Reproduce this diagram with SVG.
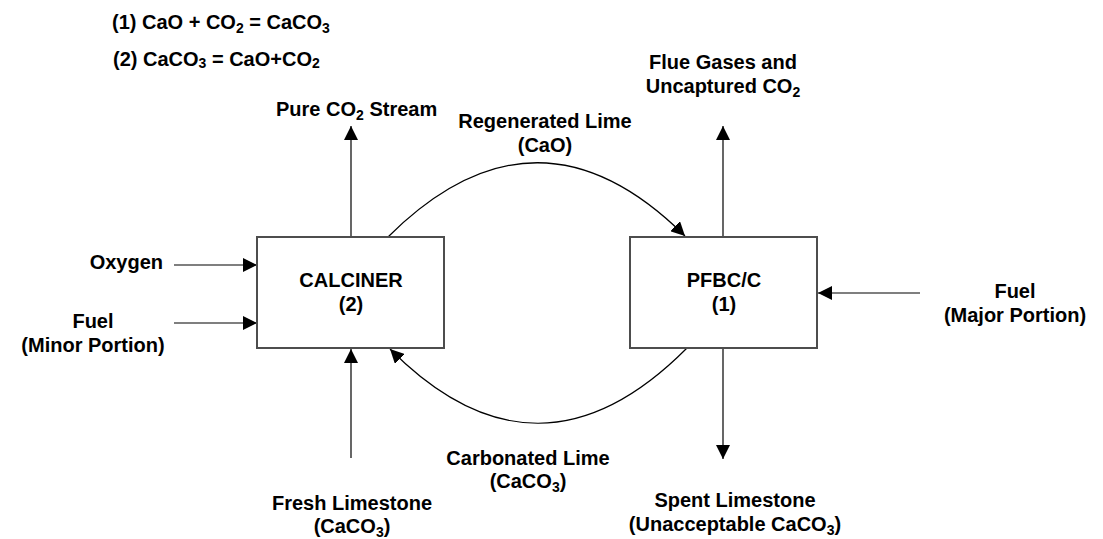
<svg xmlns="http://www.w3.org/2000/svg" width="1103" height="539" viewBox="0 0 1103 539">
<style>
text{font-family:"Liberation Sans",Arial,sans-serif;font-weight:bold;font-size:20px;fill:#000}
.m{text-anchor:middle}
.box{fill:#fff;stroke:#4d4d4d;stroke-width:2}
.c{fill:none;stroke:#000;stroke-width:1.2}
</style>
<defs>
<marker id="ah" viewBox="0 0 14 14" refX="14" refY="7" markerWidth="14" markerHeight="14" markerUnits="userSpaceOnUse" orient="auto">
<path d="M0,0 L14,7 L0,14 z" fill="#000"/>
</marker>
</defs>
<rect width="1103" height="539" fill="#fff"/>
<g id="equations">
<text x="112" y="29">(1) CaO + CO<tspan font-size="14" dy="4">2</tspan><tspan dy="-4"> = CaCO</tspan><tspan font-size="14" dy="4">3</tspan></text>
<text x="113" y="66">(2) CaCO<tspan font-size="14" dy="2">3</tspan><tspan dy="-2"> = CaO+CO</tspan><tspan font-size="14" dy="2">2</tspan></text>
</g>
<g id="connectors">
<path class="c" d="M351,237 V126" marker-end="url(#ah)"/>
<path class="c" d="M723,237 V126" marker-end="url(#ah)"/>
<path class="c" d="M174,265 H257" marker-end="url(#ah)"/>
<path class="c" d="M174,323 H257" marker-end="url(#ah)"/>
<path class="c" d="M920,293 H818" marker-end="url(#ah)"/>
<path class="c" d="M351,458 V349" marker-end="url(#ah)"/>
<path class="c" d="M723,348 V459" marker-end="url(#ah)"/>
<path class="c" d="M388,237 Q537,89 685,236" marker-end="url(#ah)"/>
<path class="c" d="M687,348 Q538,498 390,349" marker-end="url(#ah)"/>
</g>
<g id="calciner">
<rect class="box" x="257" y="237" width="187" height="111"/>
<text class="m" x="351" y="287">CALCINER</text>
<text class="m" x="351" y="311">(2)</text>
</g>
<g id="pfbc">
<rect class="box" x="630" y="237" width="187" height="111"/>
<text class="m" x="724" y="287">PFBC/C</text>
<text class="m" x="724" y="311">(1)</text>
</g>
<g id="pure-co2">
<text x="276" y="116">Pure CO<tspan font-size="14" dy="4">2</tspan><tspan dy="-4"> Stream</tspan></text>
</g>
<g id="flue-gases">
<text class="m" x="723" y="69">Flue Gases and</text>
<text class="m" x="723" y="93">Uncaptured CO<tspan font-size="14" dy="4">2</tspan></text>
</g>
<g id="regenerated-lime">
<text class="m" x="545" y="128">Regenerated Lime</text>
<text class="m" x="545" y="152">(CaO)</text>
</g>
<g id="oxygen">
<text x="163" y="269" text-anchor="end">Oxygen</text>
</g>
<g id="fuel-minor">
<text class="m" x="93" y="328">Fuel</text>
<text class="m" x="93" y="352">(Minor Portion)</text>
</g>
<g id="fuel-major">
<text class="m" x="1015" y="298">Fuel</text>
<text class="m" x="1015" y="322">(Major Portion)</text>
</g>
<g id="fresh-limestone">
<text class="m" x="352" y="510">Fresh Limestone</text>
<text class="m" x="352" y="533">(CaCO<tspan font-size="14" dy="4">3</tspan><tspan dy="-4">)</tspan></text>
</g>
<g id="carbonated-lime">
<text class="m" x="528" y="465">Carbonated Lime</text>
<text class="m" x="528" y="488">(CaCO<tspan font-size="14" dy="4">3</tspan><tspan dy="-4">)</tspan></text>
</g>
<g id="spent-limestone">
<text class="m" x="735" y="507">Spent Limestone</text>
<text class="m" x="735" y="531">(Unacceptable CaCO<tspan font-size="14" dy="4">3</tspan><tspan dy="-4">)</tspan></text>
</g>
</svg>
